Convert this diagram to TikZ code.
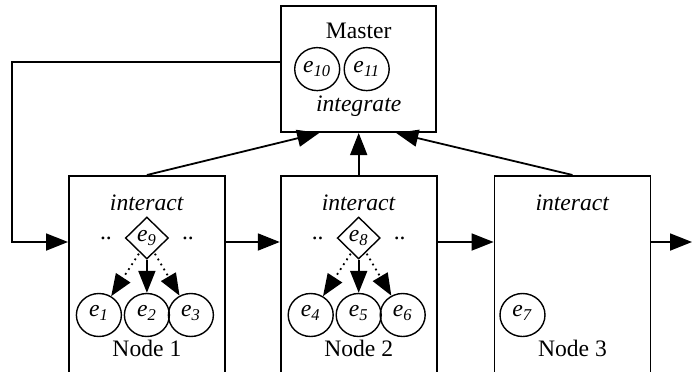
\documentclass[tikz,border=0pt]{standalone}
\usepackage{fontspec}
\setmainfont{Liberation Serif}
\usetikzlibrary{arrows.meta,positioning,shapes.geometric}
\newcommand{\esub}[1]{\textit{e}\textsubscript{\textit{#1}}}
\newcommand{\eup}[1]{\raisebox{4pt}{\esub{#1}}}

\begin{document}
\begin{tikzpicture}[node distance=27pt, every node/.style={font=\fontsize{11.8}{14}\selectfont,align=center}, box/.style={draw,line width=0.9pt,minimum width=78pt,minimum height=105pt,inner sep=0pt}, mbox/.style={draw,line width=0.9pt,minimum width=77.5pt,minimum height=63pt,inner sep=0pt}, ev/.style={draw,ellipse,line width=0.7pt,inner sep=0pt,minimum width=22.5pt,minimum height=21.5pt}, dm/.style={draw,diamond,line width=0.7pt,inner sep=0pt,minimum width=21.5pt,minimum height=21pt}, a/.style={-{Triangle[length=11pt,width=8.5pt]},line width=0.9pt}, ad/.style={a,dotted}]
\useasboundingbox (0,0) rectangle (346pt,-185.5pt);
\clip (0,0) rectangle (346pt,-185.5pt);
% the three worker boxes and the master above them
\node[box,anchor=north west] (n1) at (34pt,-87.5pt) {};
\node[box,right=27pt of n1] (n2) {};
\node[box,right=28pt of n2] (n3) {};
\node[mbox,above=21pt of n2] (master) {};
% master
\node at ([yshift=-13pt]master.north) {Master};
\node[ev] (e10) at ([xshift=-20.75pt]master.center) {\esub{10}};
\node[ev] (e11) at ([xshift=4pt]master.center) {\esub{11}};
\node at ([yshift=-18.5pt]master.center) {\textit{integrate}};
% node 1
\node at ([yshift=-14pt]n1.north) {\textit{interact}};
\node[dm] (e9) at ([yshift=-31.5pt]n1.north) {\esub{9}};
\node at ([xshift=-20.5pt,yshift=-31.5pt]n1.north) {..};
\node at ([xshift=20.5pt,yshift=-31.5pt]n1.north) {..};
\node[ev] (e1) at ([xshift=-24pt,yshift=-70pt]n1.north) {\eup{1}};
\node[ev] (e2) at ([yshift=-70pt]n1.north) {\eup{2}};
\node[ev] (e3) at ([xshift=22pt,yshift=-70pt]n1.north) {\eup{3}};
\node at ([yshift=-86.5pt]n1.north) {Node 1};
\draw[ad] ([xshift=-4pt,yshift=3pt]e9.south) -- (e1);\draw[a] (e9.south) -- (e2);\draw[ad] ([xshift=4pt,yshift=3pt]e9.south) -- (e3);
% node 2
\node at ([yshift=-14pt]n2.north) {\textit{interact}};
\node[dm] (e8) at ([yshift=-31.5pt]n2.north) {\esub{8}};
\node at ([xshift=-20.5pt,yshift=-31.5pt]n2.north) {..};
\node at ([xshift=20.5pt,yshift=-31.5pt]n2.north) {..};
\node[ev] (e4) at ([xshift=-24pt,yshift=-70pt]n2.north) {\eup{4}};
\node[ev] (e5) at ([yshift=-70pt]n2.north) {\eup{5}};
\node[ev] (e6) at ([xshift=22pt,yshift=-70pt]n2.north) {\eup{6}};
\node at ([yshift=-86.5pt]n2.north) {Node 2};
\draw[ad] ([xshift=-4pt,yshift=3pt]e8.south) -- (e4);\draw[a] (e8.south) -- (e5);\draw[ad] ([xshift=4pt,yshift=3pt]e8.south) -- (e6);
% node 3
\node at ([yshift=-14pt]n3.north) {\textit{interact}};
\node[ev] (e7) at ([xshift=-25pt,yshift=-70pt]n3.north) {\eup{7}};
\node at ([yshift=-86.5pt]n3.north) {Node 3};
% links between the boxes
\coordinate (lp) at (6pt,-121pt);
\coordinate (out) at (346pt,-121pt);
\draw[a] ([yshift=3.5pt]master.west) -| (lp) |- ([yshift=-33.5pt]n1.north west);
\draw[a] ([yshift=-33.5pt]n1.north east) -- ([yshift=-33.5pt]n2.north west);
\draw[a] ([yshift=-33.5pt]n2.north east) -- ([yshift=-33.5pt]n3.north west);
\draw[a] ([yshift=-33.5pt]n3.north east) -- (out);
\draw[a] (n1.north) -- ([xshift=-19.75pt]master.south);
\draw[a] (n2.north) -- (master.south);
\draw[a] (n3.north) -- ([xshift=18.75pt]master.south);
\end{tikzpicture}
\end{document}
